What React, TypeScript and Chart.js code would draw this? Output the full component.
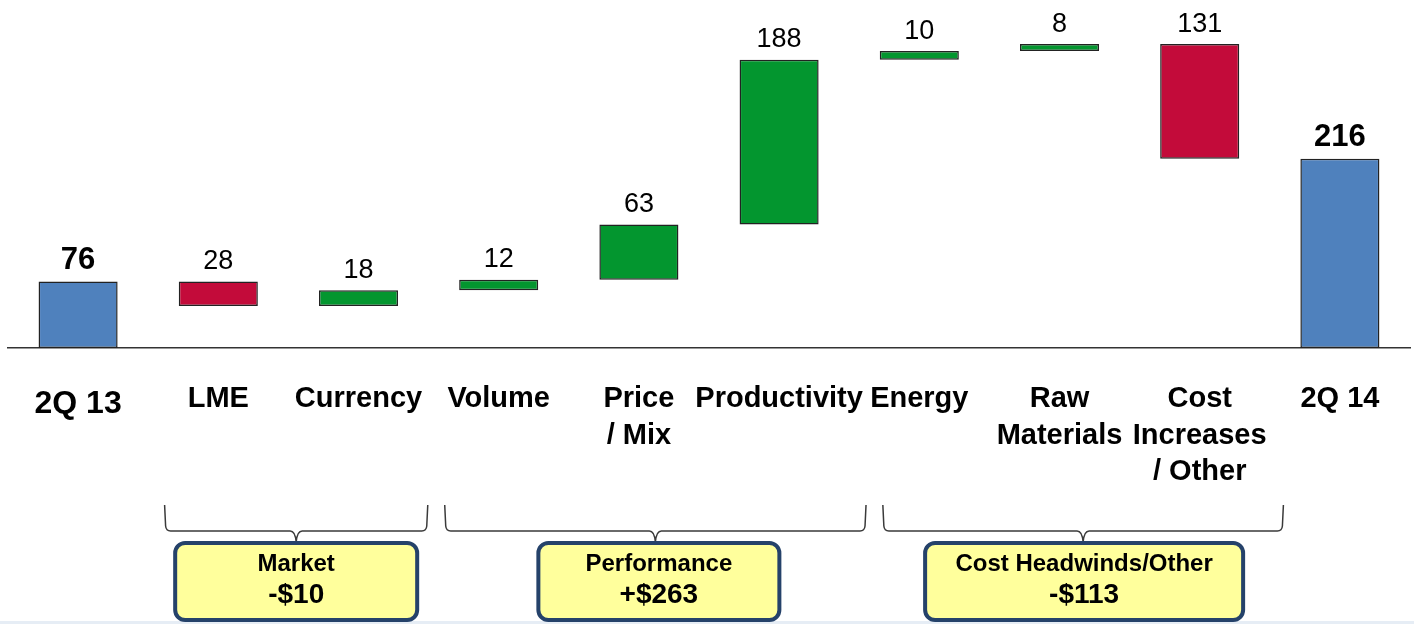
import { useEffect, useRef } from "react";
import { Chart, registerables } from "chart.js";

Chart.register(...registerables);

// ---- data ----
const categories: (string | string[])[] = [
  "2Q 13",
  "LME",
  "Currency",
  "Volume",
  ["Price", "/ Mix"],
  "Productivity",
  "Energy",
  ["Raw", "Materials"],
  ["Cost", "Increases", "/ Other"],
  "2Q 14",
];
const startTotal = 76;
const changes = [-28, 18, 12, 63, 188, 10, 8, -131];
const endTotal = 216;

const groupNames = ["Market", "Performance", "Cost Headwinds/Other"];
const groupFirst = [1, 3, 6];
const groupLast = [2, 5, 8];

// ---- styling / layout ----
const FONT = "'Liberation Sans', Arial, Helvetica, sans-serif";
const TOTAL_COLOR = "#4f81bd";
const UP_COLOR = "#03962f";
const DOWN_COLOR = "#c30b3a";
const BAR_BORDER = "#222222";
const W = 1414;
const H = 624;
// bracket extents, in category units relative to the first / last member
const bracketLeftOffset = [-0.383, -0.385, -0.26];
const bracketRightOffset = [0.494, 0.62, 0.597];
const boxWidths = [242, 241, 318];
const boxShift = [0, 3.5, 1];

// floating ranges for each step of the bridge
const ranges: [number, number][] = [];
const kinds: string[] = [];
ranges.push([0, startTotal]);
kinds.push("total");
let running = startTotal;
for (const d of changes) {
  ranges.push([running, running + d]);
  kinds.push(d >= 0 ? "up" : "down");
  running += d;
}
ranges.push([0, endTotal]);
kinds.push("total");

const labelText = ranges.map((r, i) =>
  kinds[i] === "total" ? String(r[1]) : String(Math.abs(r[1] - r[0]))
);

const barColors = kinds.map((k) =>
  k === "total" ? TOTAL_COLOR : k === "up" ? UP_COLOR : DOWN_COLOR
);

function groupSum(g: number) {
  let s = 0;
  for (let i = groupFirst[g]; i <= groupLast[g]; i++) s += changes[i - 1];
  return s;
}
function money(v: number) {
  return (v >= 0 ? "+$" : "-$") + Math.abs(v);
}

const valueLabels = {
  id: "valueLabels",
  afterDatasetsDraw(chart: any) {
    const ctx = chart.ctx as CanvasRenderingContext2D;
    const meta = chart.getDatasetMeta(0);
    ctx.save();
    ctx.fillStyle = "#000";
    ctx.textAlign = "center";
    ctx.textBaseline = "alphabetic";
    meta.data.forEach((bar: any, i: number) => {
      const p = bar.getProps(["x", "y", "base"], true);
      const top = Math.min(p.y, p.base);
      ctx.font =
        kinds[i] === "total" ? `bold 31px ${FONT}` : `27px ${FONT}`;
      ctx.fillText(labelText[i], p.x, top - 12.5);
    });
    ctx.restore();
  },
};

const groupAnnotations = {
  id: "groupAnnotations",
  afterDraw(chart: any) {
    const ctx = chart.ctx as CanvasRenderingContext2D;
    const xs = chart.scales.x;
    ctx.save();
    // faint strip along the bottom edge
    ctx.fillStyle = "#e6edf5";
    ctx.fillRect(0, H - 3, W, 3);

    const yTop = 505;
    const yLine = 531;
    const yTip = 542;
    groupNames.forEach((name, g) => {
      const L = xs.getPixelForValue(groupFirst[g] + bracketLeftOffset[g]);
      const R = xs.getPixelForValue(groupLast[g] + bracketRightOffset[g]);
      const C = (L + R) / 2;

      // curly bracket
      ctx.strokeStyle = "#3a3a3a";
      ctx.lineWidth = 1.5;
      ctx.beginPath();
      ctx.moveTo(L, yTop);
      ctx.lineTo(L + 1, yLine - 5);
      ctx.quadraticCurveTo(L + 1.5, yLine, L + 6, yLine);
      ctx.lineTo(C - 6, yLine);
      ctx.quadraticCurveTo(C - 1, yLine, C, yTip);
      ctx.quadraticCurveTo(C + 1, yLine, C + 6, yLine);
      ctx.lineTo(R - 6, yLine);
      ctx.quadraticCurveTo(R - 1.5, yLine, R - 1, yLine - 5);
      ctx.lineTo(R, yTop);
      ctx.stroke();

      // summary box
      const bc = C + boxShift[g];
      const bw = boxWidths[g];
      const bx = bc - bw / 2;
      const by = 543;
      const bh = 77;
      ctx.beginPath();
      ctx.roundRect(bx, by, bw, bh, 10);
      ctx.fillStyle = "#ffff9c";
      ctx.fill();
      ctx.lineWidth = 4;
      ctx.strokeStyle = "#25426a";
      ctx.stroke();

      ctx.fillStyle = "#000";
      ctx.textAlign = "center";
      ctx.textBaseline = "alphabetic";
      ctx.font = `bold 24px ${FONT}`;
      ctx.fillText(name, bc, 571);
      ctx.font = `bold 28px ${FONT}`;
      ctx.fillText(money(groupSum(g)), bc, 603);
    });
    ctx.restore();
  },
};

export default function App() {
  const canvasRef = useRef<HTMLCanvasElement | null>(null);

  useEffect(() => {
    const canvas = canvasRef.current;
    if (!canvas) return;
    const chart = new Chart(canvas, {
      type: "bar",
      data: {
        labels: categories,
        datasets: [
          {
            data: ranges,
            backgroundColor: barColors,
            borderColor: BAR_BORDER,
            borderWidth: 1.5,
            borderSkipped: false,
            barPercentage: 0.564,
            categoryPercentage: 1,
          },
        ],
      },
      options: {
        animation: false,
        responsive: false,
        maintainAspectRatio: false,
        devicePixelRatio: 1,
        layout: { padding: { left: 8, right: 4, top: 2, bottom: 0 } },
        plugins: {
          legend: { display: false },
          tooltip: { enabled: false },
        },
        scales: {
          x: {
            grid: { display: false, drawTicks: false },
            border: { display: true, color: "#333333", width: 1.5 },
            ticks: {
              autoSkip: false,
              maxRotation: 0,
              minRotation: 0,
              padding: 33,
              color: "#000",
              font: (c: any) =>
                c.index === 0
                  ? { family: FONT, size: 32, weight: "bold", lineHeight: 1.42 }
                  : { family: FONT, size: 29, weight: "bold", lineHeight: 1.26 },
            },
            afterFit: (scale: any) => {
              scale.height = 276;
            },
          },
          y: { display: false, min: 0, max: 395 },
        },
      },
      plugins: [valueLabels, groupAnnotations],
    });
    return () => chart.destroy();
  }, []);

  return (
    <div
      style={{
        position: "fixed",
        left: 0,
        top: 0,
        width: W,
        height: H,
        background: "#ffffff",
      }}
    >
      <canvas
        ref={canvasRef}
        width={W}
        height={H}
        style={{ display: "block", width: W, height: H }}
      />
    </div>
  );
}
